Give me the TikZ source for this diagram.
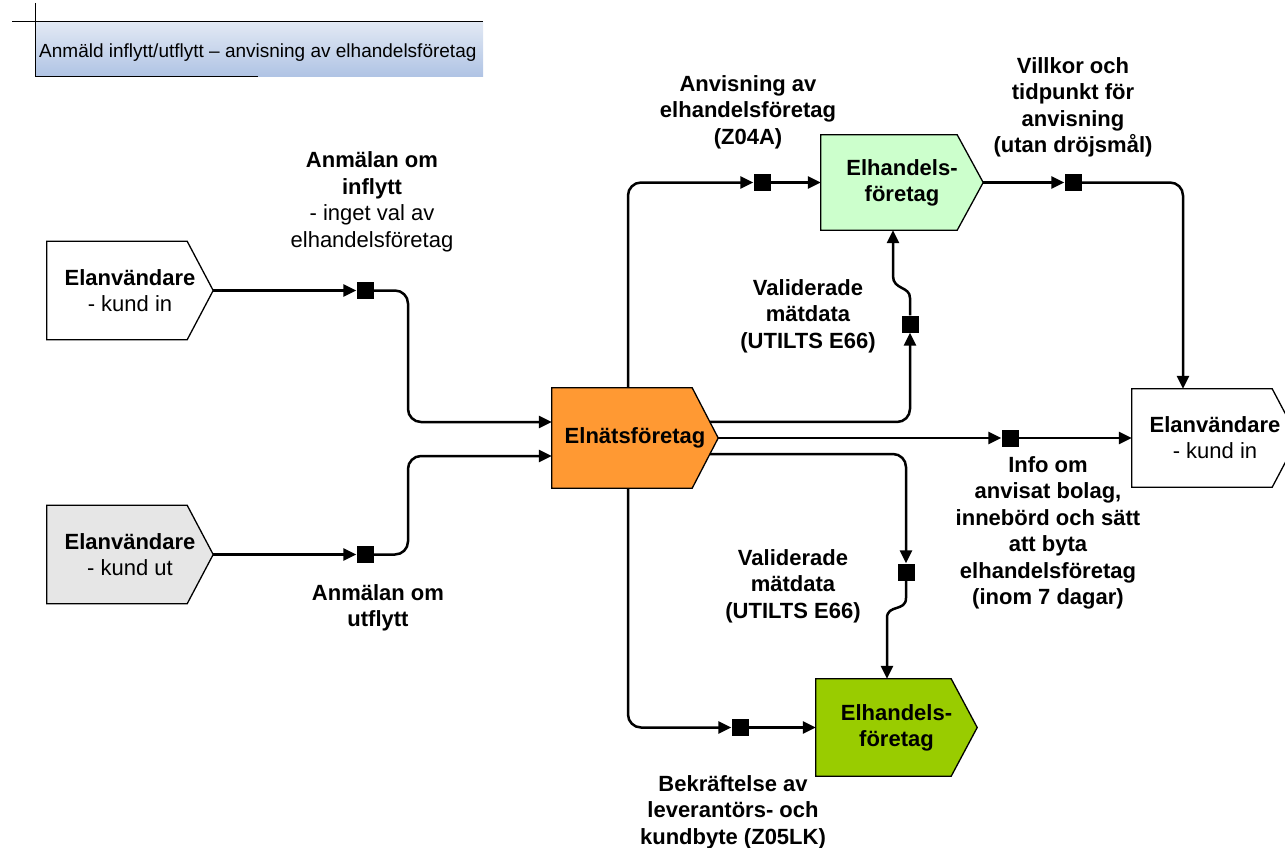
\documentclass[tikz,border=0pt]{standalone}
\usepackage{fontspec}
\setmainfont{Liberation Sans}
\usetikzlibrary{arrows.meta,calc,backgrounds}
\definecolor{orangeF}{HTML}{FF9933}
\definecolor{lgreen}{HTML}{CCFFCC}
\definecolor{dgreen}{HTML}{99CC00}
\definecolor{lgray}{HTML}{E6E6E6}
\definecolor{ttop}{HTML}{E2E9F4}
\definecolor{tbot}{HTML}{AFC3E4}
\newcommand\pentshape[2]{%
  \begin{scope}[on background layer]
  \draw[boxline, fill=#2] (#1.north west) -- ($(#1.north east)+(-26,0)$) -- (#1.east) -- ($(#1.south east)+(-26,0)$) -- (#1.south west) -- cycle;
  \end{scope}}
\begin{document}
\begin{tikzpicture}[x=1pt, y=-1pt,
  box/.style={rectangle, minimum width=166pt, minimum height=98pt, inner sep=0pt, align=center, font=\fontsize{22}{26}\selectfont},
  boxline/.style={line width=1.3pt, draw=black},
  lab/.style={align=center, inner sep=0pt, font=\fontsize{22}{26.5}\selectfont\bfseries},
  conn/.style={line width=2.5pt, rounded corners=13pt},
  arr/.style={conn, -{Triangle[length=13pt,width=12pt]}},
  jog/.style={line width=2.5pt, -{Triangle[length=13pt,width=12pt]}},
  sq/.style={fill=black, minimum size=17pt, inner sep=0pt}]
\useasboundingbox (0,0) rectangle (1285,848);
\clip (0,0) rectangle (1285,848);
% title
\shade[top color=ttop, bottom color=tbot] (35,22) rectangle (483,77);
\draw[line width=1pt] (35,3) -- (35,77) -- (258,77);
\draw[line width=1pt] (12,22) -- (483,22);
\node[anchor=base west, font=\fontsize{19}{23}\selectfont, inner sep=0pt] (title) at (39,58) {Anmäld inflytt/utflytt – anvisning av elhandelsföretag};
% boxes
\node[box] (kin) at (130,290.5) {\textbf{Elanvändare}\\- kund in};
\node[box] (kut) at (130,554.5) {\textbf{Elanvändare}\\- kund ut};
\node[box, minimum height=100pt] (elnat) at (635,438) {\textbf{Elnätsföretag}};
\node[box, minimum width=162pt, minimum height=95pt] (eh1) at (902,182.5) {\textbf{Elhandels-}\\\textbf{företag}};
\node[box, minimum width=161pt, minimum height=97pt] (eh2) at (896.5,727.5) {\textbf{Elhandels-}\\\textbf{företag}};
\node[box] (kin2) at (1215,438) {\textbf{Elanvändare}\\- kund in};
\pentshape{kin}{white}
\pentshape{kut}{lgray}
\pentshape{elnat}{orangeF}
\pentshape{eh1}{lgreen}
\pentshape{eh2}{dgreen}
\pentshape{kin2}{white}
% squares
\node[sq] (s1) at (365,290.5) {};
\node[sq] (s2) at (365,554.5) {};
\node[sq] (s3) at (762,182.5) {};
\node[sq] (s4) at (740,727.5) {};
\node[sq] (s5) at (910,324) {};
\node[sq] (s6) at (1010,438) {};
\node[sq] (s7) at (906,572) {};
\node[sq] (s8) at (1073,182.5) {};
% connectors
\draw[arr] (kin.east) -- (s1.west);
\draw[arr] (s1.east) -- (408,290.5) -- (408,422) -- ($(elnat.west)+(0,-16)$);
\draw[arr] (kut.east) -- (s2.west);
\draw[arr] (s2.east) -- (408,554.5) -- (408,456) -- ($(elnat.west)+(0,18)$);
\draw[arr] ($(elnat.north)+(-7,0)$) -- (628,182.5) -- (s3.west);
\draw[arr] (s3.east) -- (eh1.west);
\draw[arr] ($(elnat.south)+(-7,0)$) -- (628,727.5) -- (s4.west);
\draw[arr] (s4.east) -- (eh2.west);
\draw[arr] ($($(elnat.north east)+(-26,0)$)!0.68!(elnat.east)$) -- (910,422) -- (s5.south);
\draw[jog] (s5.north) -- (910,298) .. controls (910,286) and (893,290) .. (893,276) -- ($(eh1.south)+(-9,0)$);
\draw[arr] (elnat.east) -- (s6.west);
\draw[arr] (s6.east) -- (kin2.west);
\draw[arr] ($(elnat.east)!0.32!($(elnat.south east)+(-26,0)$)$) -- (906,454) -- (s7.north);
\draw[jog] (s7.south) -- (906,598) .. controls (906,612) and (887,604) .. (887,618) -- ($(eh2.north)+(-9.5,0)$);
\draw[arr] (eh1.east) -- (s8.west);
\draw[arr] (s8.east) -- (1183,182.5) -- ($(kin2.north)+(-32,0)$);
% labels
\node[lab] (lA) at (372,202) {Anmälan om\\inflytt\\\mdseries - inget val av\\\mdseries elhandelsföretag};
\node[lab] (lB) at (378,608) {Anmälan om\\utflytt};
\node[lab] (lC) at (748,112) {Anvisning av\\elhandelsföretag\\(Z04A)};
\node[lab] (lD) at (1073,107.5) {Villkor och\\tidpunkt för\\anvisning\\(utan dröjsmål)};
\node[lab] (lE) at (808,316) {Validerade\\mätdata\\(UTILTS E66)};
\node[lab] (lF) at (1048,533) {Info om\\anvisat bolag,\\innebörd och sätt\\att byta\\elhandelsföretag\\(inom 7 dagar)};
\node[lab] (lG) at (793,586) {Validerade\\mätdata\\(UTILTS E66)};
\node[lab] (lH) at (733,812) {Bekräftelse av\\leverantörs- och\\kundbyte (Z05LK)};
\end{tikzpicture}
\end{document}
